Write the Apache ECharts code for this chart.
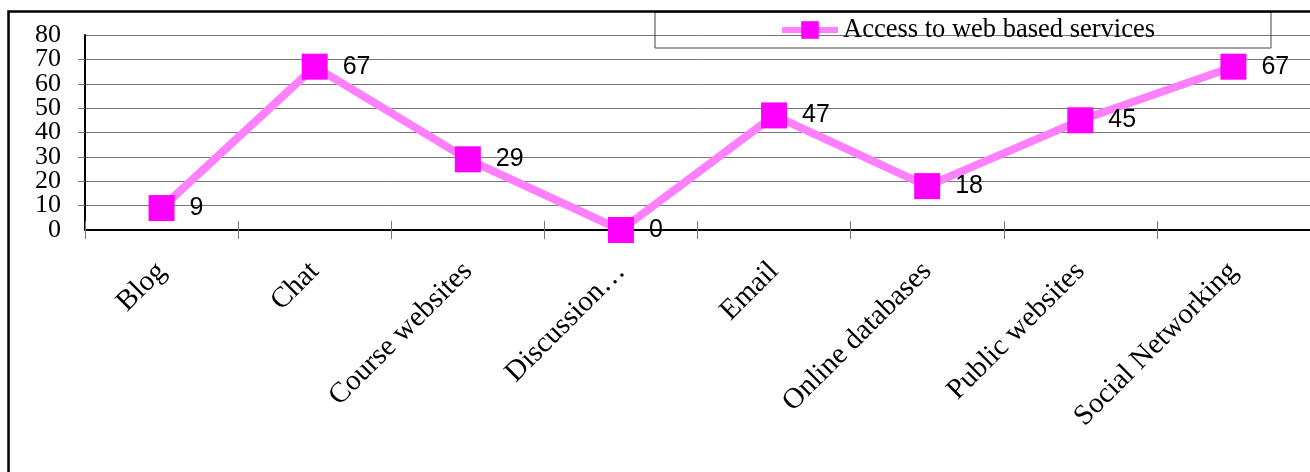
<!DOCTYPE html>
<html><head><meta charset="utf-8">
<script src="https://cdn.jsdelivr.net/npm/echarts@6/dist/echarts.min.js"></script>
<style>html,body{margin:0;padding:0;background:#fff}#c{width:1310px;height:472px}</style>
</head><body><div id="c"></div>
<script>
const categories = ['Blog', 'Chat', 'Course websites', 'Discussion…', 'Email', 'Online databases', 'Public websites', 'Social Networking'];
const values = [9, 67, 29, 0, 47, 18, 45, 67];
const seriesName = 'Access to web based services';
const yMin = 0, yMax = 80, yInterval = 10;

const chart = echarts.init(document.getElementById('c'));
const serif = 'Liberation Serif';
const lineColor = '#ff80ff';
const markColor = '#ff00ff';
const yLabelStyle = { margin: 24, fontFamily: serif, fontSize: 26, color: '#000', hideOverlap: false };

chart.setOption({
  animation: false,
  backgroundColor: '#fff',
  graphic: [{
    type: 'rect', silent: true, z: 100,
    shape: { x: 8.5, y: 11.5, width: 1400, height: 600 },
    style: { fill: 'none', stroke: '#000', lineWidth: 2.5 }
  }],
  legend: {
    show: true,
    left: 655, top: 12,
    padding: [4, 116, 4, 124],
    borderColor: '#444', borderWidth: 1,
    itemWidth: 56, itemHeight: 22,
    lineStyle: { width: 6 },
    textStyle: { fontFamily: serif, fontSize: 26.5, color: '#000', lineHeight: 28 },
    data: [seriesName]
  },
  grid: { left: 85, top: 35, width: 1227, height: 195, containLabel: false },
  xAxis: [{
    type: 'category',
    data: categories,
    boundaryGap: true,
    axisLine: { show: true, lineStyle: { color: '#000', width: 2 } },
    axisTick: { show: true, interval: 0, length: 9, lineStyle: { color: '#777' } },
    axisLabel: { interval: 0, rotate: 45, margin: 37, fontFamily: serif, fontSize: 29, color: '#000', hideOverlap: false },
    splitLine: { show: false }
  }, {
    type: 'category',
    data: categories,
    position: 'top',
    offset: -195,
    boundaryGap: true,
    axisLine: { show: false },
    axisTick: { show: true, interval: 0, length: 9, lineStyle: { color: '#777' } },
    axisLabel: { show: false },
    splitLine: { show: false }
  }],
  yAxis: [{
    type: 'value',
    position: 'left',
    min: yMin, max: yMax, interval: yInterval,
    axisLine: { show: true, lineStyle: { color: '#000', width: 2 } },
    axisTick: { show: true, length: 7, lineStyle: { color: '#777' } },
    axisLabel: Object.assign({ showMinLabel: false, showMaxLabel: false }, yLabelStyle),
    splitLine: { show: true, lineStyle: { color: '#777', width: 1 } }
  }, {
    type: 'value',
    position: 'left',
    offset: 0,
    min: yMin, max: yMax, interval: yMax - yMin,
    axisLine: { show: false },
    axisTick: { show: false },
    axisLabel: Object.assign({ showMinLabel: true, showMaxLabel: true }, yLabelStyle),
    splitLine: { show: false }
  }],
  series: [{
    name: seriesName,
    type: 'line',
    data: values,
    xAxisIndex: 0,
    yAxisIndex: 0,
    symbol: 'rect',
    symbolSize: 26,
    showAllSymbol: true,
    lineStyle: { color: lineColor, width: 8 },
    itemStyle: { color: markColor },
    label: {
      show: true, position: 'right', distance: 15,
      fontFamily: 'Liberation Sans', fontSize: 25, color: '#000'
    },
    emphasis: { disabled: true },
    z: 5
  }]
});
</script></body></html>
